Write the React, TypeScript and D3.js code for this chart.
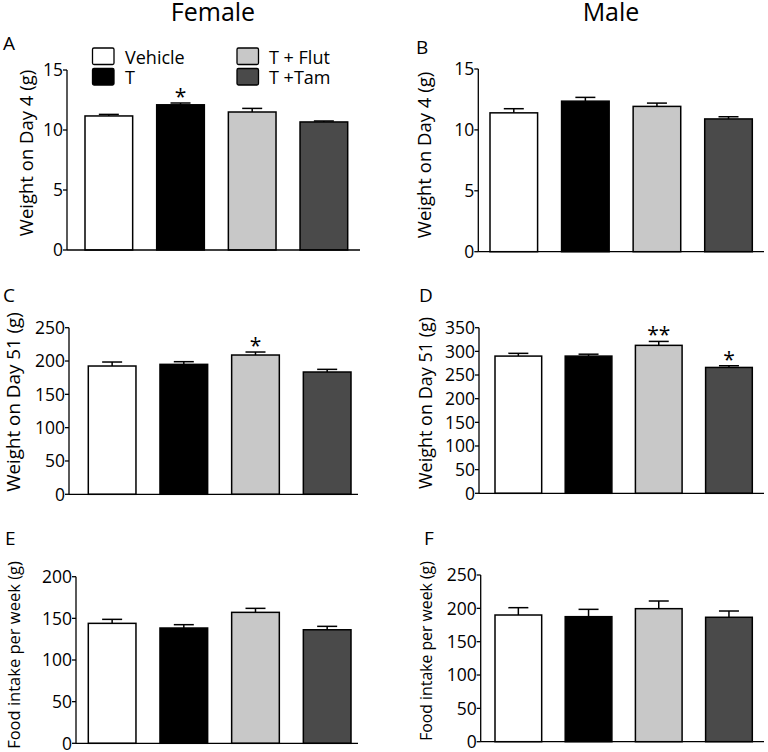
import React from "react";
import * as d3 from "d3";

const groups = ["Vehicle", "T", "T + Flut", "T +Tam"];
const legendLabels = ["Vehicle", "T", "T + Flut", "T +Tam"];
const fills = ["#ffffff", "#000000", "#c8c8c8", "#4a4a4a"];

const femaleDay4 = [11.17, 12.1, 11.5, 10.67];
const femaleDay4Err = [0.13, 0.15, 0.3, 0.08];
const maleDay4 = [11.4, 12.36, 11.93, 10.9];
const maleDay4Err = [0.34, 0.31, 0.27, 0.18];
const femaleDay51 = [192.5, 195, 209, 183.5];
const femaleDay51Err = [6, 4, 4.5, 4];
const maleDay51 = [290, 290, 312.7, 266];
const maleDay51Err = [5.8, 4, 8.3, 3.6];
const femaleFood = [144, 138.4, 157.2, 136.3];
const femaleFoodErr = [4.8, 4, 4.8, 4.1];
const maleFood = [190, 187.5, 199.5, 186.6];
const maleFoodErr = [11, 11, 11.5, 9.4];

const ticks15 = [0, 5, 10, 15];
const ticks200 = [0, 50, 100, 150, 200];
const ticks250 = [0, 50, 100, 150, 200, 250];
const ticks350 = [0, 50, 100, 150, 200, 250, 300, 350];

const femaleDay4Stars = ["", "*", "", ""];
const maleDay4Stars = ["", "", "", ""];
const femaleDay51Stars = ["", "", "*", ""];
const maleDay51Stars = ["", "", "**", "*"];
const noStars = ["", "", "", ""];

const yLabelDay4 = "Weight on Day 4 (g)";
const yLabelDay51 = "Weight on Day 51 (g)";
const yLabelFood = "Food intake per week (g)";

const FONT = "'Open Sans', Lato, 'DejaVu Sans', sans-serif";

type PanelSpec = {
  letter: string;
  values: number[];
  errs: number[];
  stars: string[];
  ticks: number[];
  yLabel: string;
  axisX: number;
  y0: number;
  yTop: number;
  xEnd: number;
  barsStart: number;
  barsEnd: number;
  letterX: number;
  letterY: number;
  labelX: number;
  labelY: number;
  labelSize: number;
};

const panels: PanelSpec[] = [
  {
    letter: "A", values: femaleDay4, errs: femaleDay4Err, stars: femaleDay4Stars, ticks: ticks15, yLabel: yLabelDay4,
    axisX: 67, y0: 250, yTop: 70, xEnd: 360, barsStart: 85, barsEnd: 347.7, letterX: 3, letterY: 50,
    labelX: 33, labelY: 153, labelSize: 18.5,
  },
  {
    letter: "B", values: maleDay4, errs: maleDay4Err, stars: maleDay4Stars, ticks: ticks15, yLabel: yLabelDay4,
    axisX: 478.3, y0: 251.7, yTop: 69, xEnd: 764, barsStart: 490, barsEnd: 752.3, letterX: 416, letterY: 54,
    labelX: 431, labelY: 155, labelSize: 18.5,
  },
  {
    letter: "C", values: femaleDay51, errs: femaleDay51Err, stars: femaleDay51Stars, ticks: ticks250, yLabel: yLabelDay51,
    axisX: 69, y0: 494.3, yTop: 327.7, xEnd: 358, barsStart: 88.3, barsEnd: 351, letterX: 3, letterY: 302,
    labelX: 20, labelY: 402, labelSize: 18.8,
  },
  {
    letter: "D", values: maleDay51, errs: maleDay51Err, stars: maleDay51Stars, ticks: ticks350, yLabel: yLabelDay51,
    axisX: 479, y0: 493.3, yTop: 327.7, xEnd: 764, barsStart: 495, barsEnd: 752.3, letterX: 419, letterY: 302,
    labelX: 432, labelY: 403, labelSize: 18,
  },
  {
    letter: "E", values: femaleFood, errs: femaleFoodErr, stars: noStars, ticks: ticks200, yLabel: yLabelFood,
    axisX: 76, y0: 743.3, yTop: 576.7, xEnd: 358, barsStart: 88.3, barsEnd: 351, letterX: 5, letterY: 545,
    labelX: 20, labelY: 655, labelSize: 16.5,
  },
  {
    letter: "F", values: maleFood, errs: maleFoodErr, stars: noStars, ticks: ticks250, yLabel: yLabelFood,
    axisX: 480.7, y0: 741.7, yTop: 575, xEnd: 764, barsStart: 495, barsEnd: 752.3, letterX: 424, letterY: 545,
    labelX: 432, labelY: 651, labelSize: 15.8,
  },
];

function Panel({ p }: { p: PanelSpec }) {
  const maxTick = p.ticks[p.ticks.length - 1];
  const y = d3.scaleLinear().domain([0, maxTick]).range([p.y0, p.yTop]);
  const x = d3.scaleBand<string>().domain(groups).range([p.barsStart, p.barsEnd]).paddingInner(0.335).paddingOuter(0);
  const bw = x.bandwidth();
  const capW = 20;
  return (
    <g>
      <text x={p.letterX} y={p.letterY} fontSize={19} fontFamily={FONT}>{p.letter}</text>
      <text
        transform={`translate(${p.labelX},${p.labelY}) rotate(-90)`}
        textAnchor="middle"
        fontSize={p.labelSize}
        fontFamily={FONT}
      >
        {p.yLabel}
      </text>
      {p.values.map((v, i) => {
        const g = groups[i];
        const bx = x(g)!;
        const cx = bx + bw / 2;
        const top = y(v);
        const eTop = y(v + p.errs[i]);
        return (
          <g key={g}>
            <line x1={cx} x2={cx} y1={top} y2={eTop} stroke="#000" strokeWidth={1.5} />
            <line x1={cx - capW / 2} x2={cx + capW / 2} y1={eTop} y2={eTop} stroke="#000" strokeWidth={1.5} />
            <rect x={bx} y={top} width={bw} height={p.y0 - top} fill={fills[i]} stroke="#000" strokeWidth={1.5} />
            {p.stars[i] && (
              <text x={cx} y={eTop + 1} textAnchor="middle" fontSize={21} fontFamily={FONT}>
                {p.stars[i]}
              </text>
            )}
          </g>
        );
      })}
      <line x1={p.axisX} x2={p.axisX} y1={p.y0} y2={p.yTop} stroke="#000" strokeWidth={1.3} />
      <line x1={p.axisX} x2={p.xEnd} y1={p.y0} y2={p.y0} stroke="#000" strokeWidth={1.3} />
      {p.ticks.map((t) => (
        <g key={t}>
          <line x1={p.axisX - 4} x2={p.axisX} y1={y(t)} y2={y(t)} stroke="#000" strokeWidth={1.3} />
          <text x={p.axisX - 4} y={y(t)} dy="0.36em" textAnchor="end" fontSize={17.5} fontFamily={FONT}>
            {t}
          </text>
        </g>
      ))}
    </g>
  );
}

function Legend() {
  const pos = [
    { bx: 92.5, by: 48, tx: 125, ty: 63.5 },
    { bx: 92.5, by: 68.5, tx: 125, ty: 84 },
    { bx: 237, by: 48, tx: 269, ty: 63.5 },
    { bx: 237, by: 68.5, tx: 269, ty: 84 },
  ];
  return (
    <g>
      {legendLabels.map((l, i) => (
        <g key={l}>
          <rect x={pos[i].bx} y={pos[i].by} width={21.5} height={16.5} rx={1.5} fill={fills[i]} stroke="#000" strokeWidth={1.3} />
          <text x={pos[i].tx} y={pos[i].ty} fontSize={18} fontFamily={FONT}>{l}</text>
        </g>
      ))}
    </g>
  );
}

export default function App() {
  return (
    <svg width={768} height={752} style={{ position: "absolute", left: 0, top: 0, background: "#fff" }}>
      <rect x={0} y={0} width={768} height={752} fill="#fff" />
      <text x={213} y={21} textAnchor="middle" fontSize={25} fontFamily={FONT}>Female</text>
      <text x={611} y={21} textAnchor="middle" fontSize={25} fontFamily={FONT}>Male</text>
      {panels.map((p) => (
        <Panel key={p.letter} p={p} />
      ))}
      <Legend />
    </svg>
  );
}
